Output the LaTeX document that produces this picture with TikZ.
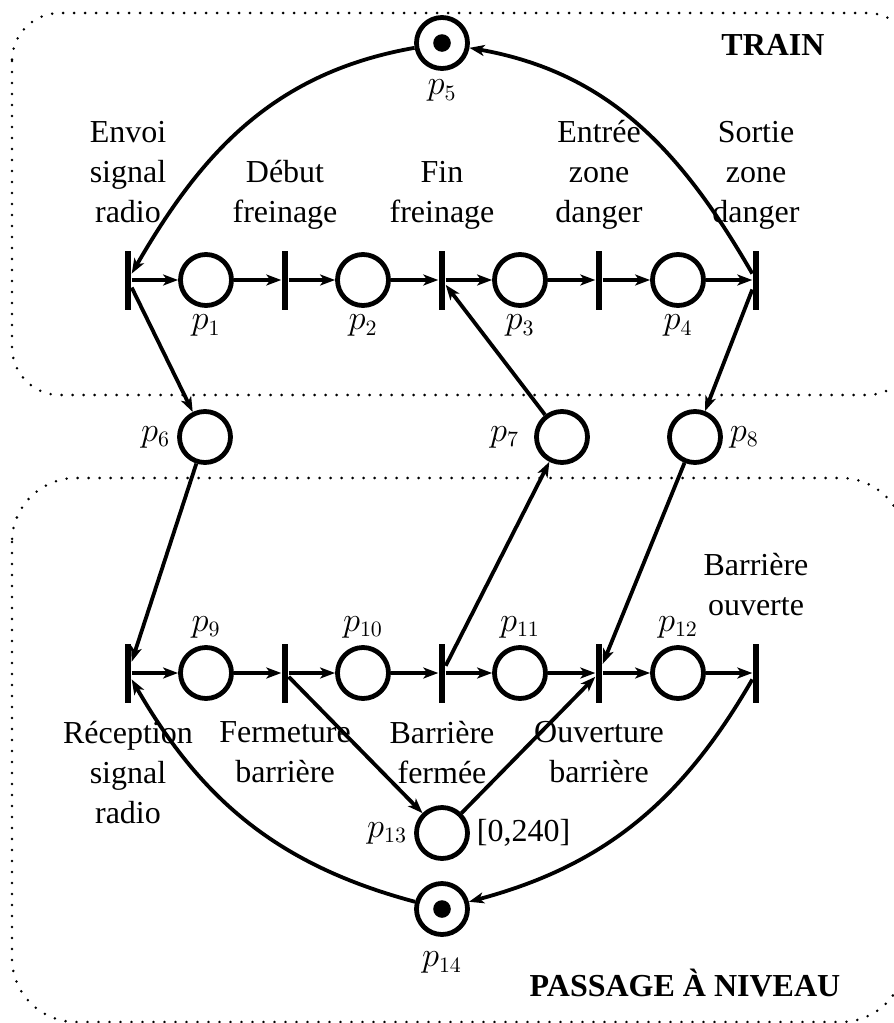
\documentclass[tikz,border=0pt]{standalone}
\usepackage{fontspec}
\setmainfont{Liberation Serif}
\usetikzlibrary{arrows.meta}
\tikzset{
  place/.style={circle, draw, line width=2.4pt, minimum size=25.5pt, inner sep=0pt},
  marked/.style={place, path picture={\fill (path picture bounding box.center) circle (4.4pt);}},
  trans/.style={rectangle, fill, minimum width=3.3pt, minimum height=29.5pt, inner sep=0pt},
  flow/.style={->, line width=1.9pt},
  zone/.style={line width=1.4pt, dash pattern=on 0pt off 5.5pt, line cap=round},
  nameup/.style={label={[align=center, inner sep=0pt, text depth=0pt, label distance=13.5pt]above:#1}},
  namedown/.style={label={[align=center, inner sep=0pt, label distance=9pt]below:#1}},
}
\begin{document}
\begin{tikzpicture}[x=0.5pt, y=0.5pt, font=\fontsize{16}{20}\selectfont, line join=round, >={Stealth[length=7.5pt,width=5.5pt,inset=2pt]}]
	\useasboundingbox (0,0) rectangle (894,-1023);
	\clip (0,0) rectangle (894,-1023);
	% zones
	\draw[zone, rounded corners=24pt] (12,-13) rectangle (915,-395);
	\draw[zone, rounded corners=32pt] (12,-478) rectangle (905,-1022);
	\node[font=\fontsize{16}{20}\selectfont\bfseries, anchor=base] (train) at (773,-55) {TRAIN};
	\node[font=\fontsize{16}{20}\selectfont\bfseries, anchor=base] (pn) at (685,-996) {PASSAGE À NIVEAU};
	% train
	\node[marked, label={[label distance=1pt]below:$p_5$}] (p5) at (442,-43) {};
	\node[trans, nameup={Envoi\\signal\\radio}] (t1) at (128,-280) {};
	\node[place, label=below:$p_1$] (p1) at (206,-280) {};
	\node[trans, nameup={Début\\freinage}] (t2) at (285,-280) {};
	\node[place, label=below:$p_2$] (p2) at (363,-280) {};
	\node[trans, nameup={Fin\\freinage}] (t3) at (442,-280) {};
	\node[place, label=below:$p_3$] (p3) at (520,-280) {};
	\node[trans, nameup={Entrée\\zone\\danger}] (t4) at (599,-280) {};
	\node[place, label=below:$p_4$] (p4) at (678,-280) {};
	\node[trans, nameup={Sortie\\zone\\danger}] (t5) at (756,-280) {};
	% exchanged places
	\node[place, label=left:$p_6$] (p6) at (205,-437) {};
	\node[place, label={[label distance=4pt]left:$p_7$}] (p7) at (562,-437) {};
	\node[place, label=right:$p_8$] (p8) at (695,-437) {};
	% level crossing
	\node[trans, namedown={Réception\\signal\\radio}] (t6) at (128,-673) {};
	\node[place, label=above:$p_9$] (p9) at (206,-673) {};
	\node[trans, namedown={Fermeture\\barrière}] (t7) at (285,-673) {};
	\node[place, label=above:$p_{10}$] (p10) at (363,-673) {};
	\node[trans, namedown={Barrière\\fermée}] (t8) at (442,-673) {};
	\node[place, label=above:$p_{11}$] (p11) at (520,-673) {};
	\node[trans, namedown={Ouverture\\barrière}] (t9) at (599,-673) {};
	\node[place, label=above:$p_{12}$] (p12) at (678,-673) {};
	\node[trans, nameup={Barrière\\ouverte}] (t10) at (756,-673) {};
	\node[place, label=left:$p_{13}$, label=right:{[0,240]}] (p13) at (442,-833) {};
	\node[marked, label={[label distance=4pt]below:$p_{14}$}] (p14) at (442,-909) {};
	% arcs
	\draw[flow] (t1) -- (p1);
	\draw[flow] (p1) -- (t2);
	\draw[flow] (t2) -- (p2);
	\draw[flow] (p2) -- (t3);
	\draw[flow] (t3) -- (p3);
	\draw[flow] (p3) -- (t4);
	\draw[flow] (t4) -- (p4);
	\draw[flow] (p4) -- (t5);
	\draw[flow] (p5) to[out=190, in=60] (t1);
	\draw[flow] (t5) to[out=120, in=-10] (p5);
	\draw[flow] (t1) -- (p6);
	\draw[flow] (p6) -- (t6);
	\draw[flow] (p7) -- (t3);
	\draw[flow] (t8) -- (p7);
	\draw[flow] (t5) -- (p8);
	\draw[flow] (p8) -- (t9);
	\draw[flow] (t6) -- (p9);
	\draw[flow] (p9) -- (t7);
	\draw[flow] (t7) -- (p10);
	\draw[flow] (p10) -- (t8);
	\draw[flow] (t8) -- (p11);
	\draw[flow] (p11) -- (t9);
	\draw[flow] (t9) -- (p12);
	\draw[flow] (p12) -- (t10);
	\draw[flow] (t7) -- (p13);
	\draw[flow] (p13) -- (t9);
	\draw[flow] (t10) to[out=-120, in=15] (p14);
	\draw[flow] (p14) to[out=165, in=-60] (t6);
\end{tikzpicture}
\end{document}
